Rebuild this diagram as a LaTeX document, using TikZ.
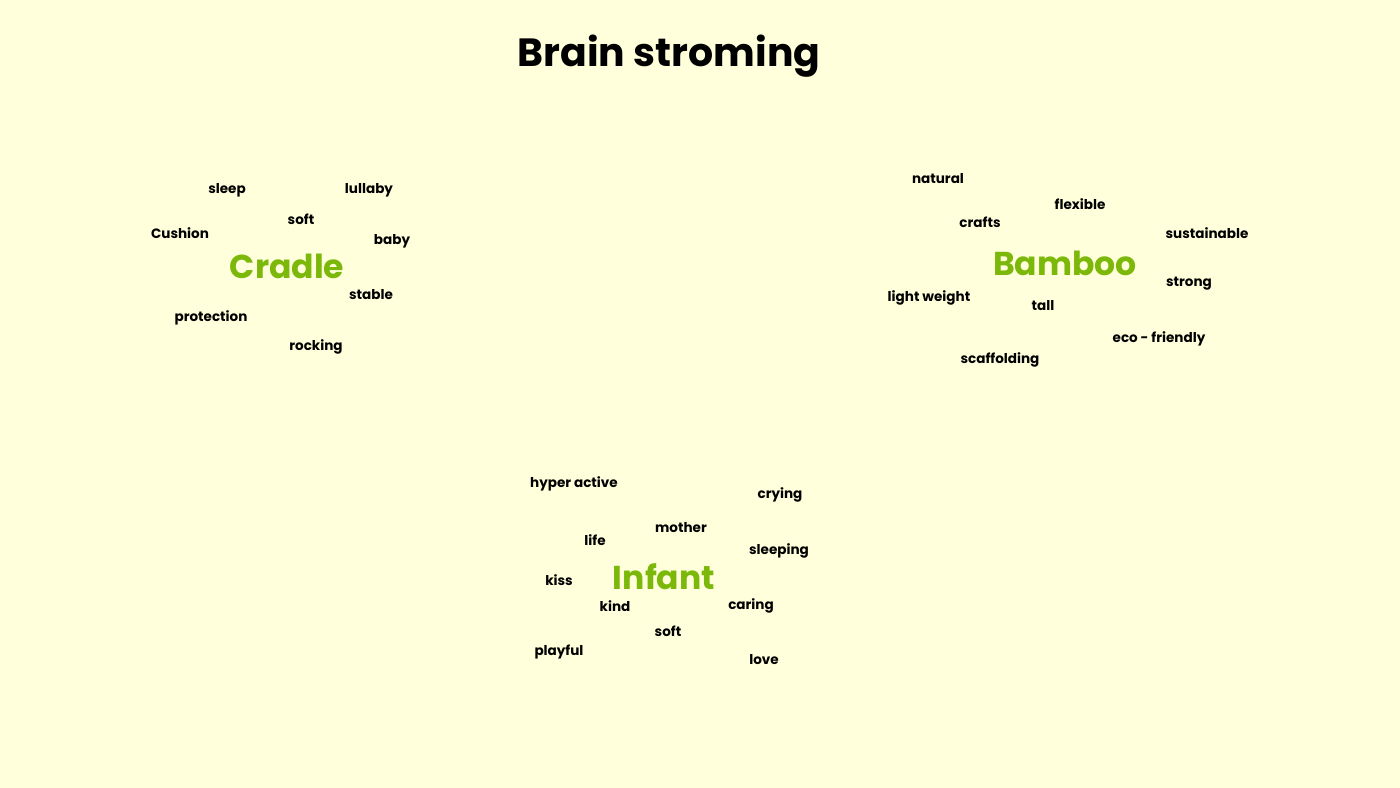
\documentclass[tikz,border=0pt]{standalone}
\usepackage{fontspec}
\setmainfont{Poppins}
\definecolor{paper}{RGB}{255,255,220}
\definecolor{leaf}{RGB}{124,184,10}
\tikzset{
  word/.style={font=\bfseries\fontsize{3.85pt}{5pt}\selectfont, text=black, inner sep=0pt},
  hub/.style={font=\bfseries\fontsize{9.4pt}{11pt}\selectfont, text=leaf, inner sep=0pt},
  heading/.style={font=\bfseries\fontsize{11.2pt}{13pt}\selectfont, text=black, inner sep=0pt}
}
\begin{document}
\begin{tikzpicture}[x=0.01cm,y=-0.01cm]
                \useasboundingbox[fill=paper] (0,0) rectangle (1400,788);
                \node[heading] (title) at (669,56) {Brain stroming};

                % cradle
                \node[hub] (cradle) at (287,266) {Cradle};
                \node[word] (sleep) at (227,190) {sleep};
                \node[word] (lullaby) at (369,190) {lullaby};
                \node[word] (softc) at (301,219) {soft};
                \node[word] (cushion) at (180,233) {Cushion};
                \node[word] (baby) at (392,241) {baby};
                \node[word] (stable) at (371,295) {stable};
                \node[word] (protection) at (211,318) {protection};
                \node[word] (rocking) at (316,347) {rocking};

                % bamboo
                \node[hub] (bamboo) at (1065,263) {Bamboo};
                \node[word] (natural) at (938,179) {natural};
                \node[word] (flexible) at (1080,204) {flexible};
                \node[word] (crafts) at (980,222) {crafts};
                \node[word] (sustainable) at (1207,233) {sustainable};
                \node[word] (strong) at (1189,284) {strong};
                \node[word] (lightweight) at (929,298) {light weight};
                \node[word] (tall) at (1043,306) {tall};
                \node[word] (ecofriendly) at (1159,339) {eco - friendly};
                \node[word] (scaffolding) at (1000,360) {scaffolding};

                % infant
                \node[hub] (infant) at (664,577) {Infant};
                \node[word] (hyperactive) at (574,484) {hyper active};
                \node[word] (crying) at (780,495) {crying};
                \node[word] (mother) at (681,528) {mother};
                \node[word] (life) at (595,540) {life};
                \node[word] (sleeping) at (779,551) {sleeping};
                \node[word] (kiss) at (559,580) {kiss};
                \node[word] (kind) at (615,606) {kind};
                \node[word] (caring) at (751,606) {caring};
                \node[word] (softi) at (668,631) {soft};
                \node[word] (playful) at (559,652) {playful};
                \node[word] (love) at (764,660) {love};
            \end{tikzpicture}
\end{document}
